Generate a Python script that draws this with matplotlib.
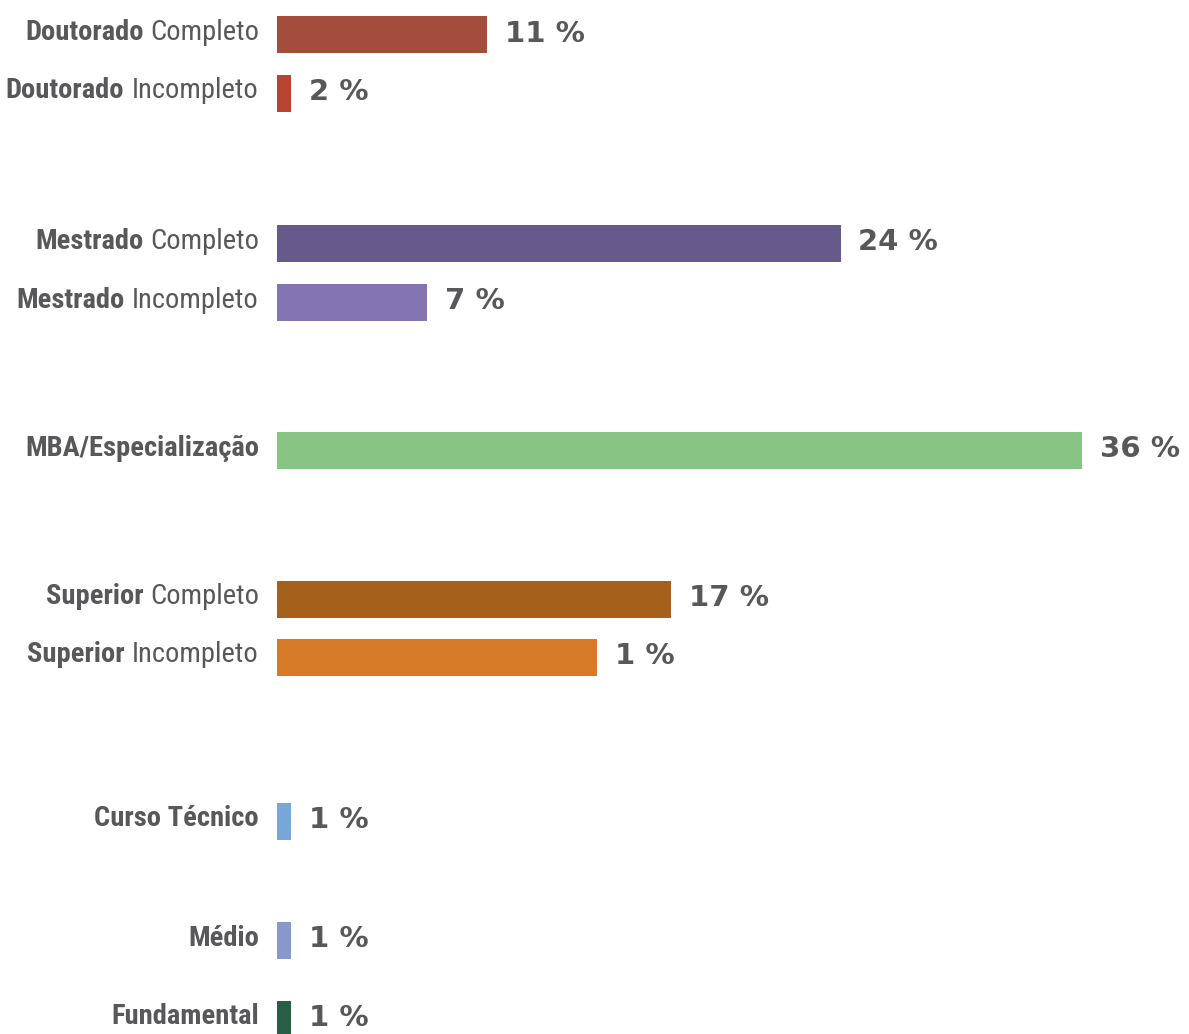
import matplotlib
matplotlib.use("Agg")
import matplotlib.pyplot as plt

# ---- data ----
bold_part = ["Doutorado", "Doutorado", "Mestrado", "Mestrado", "MBA/Especialização",
             "Superior", "Superior", "Curso Técnico", "Médio", "Fundamental"]
regular_part = ["Completo", "Incompleto", "Completo", "Incompleto", "",
                "Completo", "Incompleto", "", "", ""]
bar_values = [9.4, 0.63, 25.2, 6.7, 36.0, 17.6, 14.3, 0.63, 0.63, 0.63]
value_labels = ["11 %", "2 %", "24 %", "7 %", "36 %", "17 %", "1 %", "1 %", "1 %", "1 %"]

# ---- layout / style ----
y_pos = [34.5, 93, 243.5, 302, 450, 599, 657, 821, 940, 1019]
colors = ["#A44D3C", "#B94333", "#665A8A", "#8574B4", "#88C484",
          "#A5601C", "#D67A28", "#77A7D8", "#8A97CA", "#285E43"]
W, H = 1189, 1034
px_per_unit = 805 / 36.0
bar_h = 37
text_color = "#58585A"
label_fonts = ['Roboto Condensed', 'Roboto', 'DejaVu Sans']
label_size = 20.5

fig = plt.figure(figsize=(W / 100, H / 100), dpi=100)
ax = fig.add_axes([277 / W, 0, (W - 277) / W, 1])
ax.set_xlim(0, (W - 277) / px_per_unit)
ax.set_ylim(H, 0)
ax.axis("off")

ax.barh(y_pos, bar_values, height=bar_h, color=colors, align="center")

label_ax = fig.add_axes([0, 0, 1, 1])
label_ax.set_xlim(0, W)
label_ax.set_ylim(H, 0)
label_ax.axis("off")
label_ax.patch.set_alpha(0)

fig.canvas.draw()
renderer = fig.canvas.get_renderer()

for b, r, y in zip(bold_part, regular_part, y_pos):
    yt = y - 5
    if r:
        t = label_ax.text(259, yt, r, ha="right", va="center_baseline",
                          fontsize=label_size, color=text_color, family=label_fonts)
        bb = t.get_window_extent(renderer=renderer)
        x_left = label_ax.transData.inverted().transform((bb.x0, 0))[0]
        gap = 8 if r.startswith("I") else 6
        label_ax.text(x_left - gap, yt, b, ha="right", va="center_baseline",
                      fontsize=label_size, fontweight="bold", color=text_color,
                      family=label_fonts)
    else:
        label_ax.text(259, yt, b, ha="right", va="center_baseline",
                      fontsize=label_size, fontweight="bold", color=text_color,
                      family=label_fonts)

for v, lab, y in zip(bar_values, value_labels, y_pos):
    ax.annotate(lab, xy=(v, y), xytext=(18, 4), textcoords="offset pixels",
                ha="left", va="center_baseline", fontsize=21, fontweight="heavy",
                color=text_color, family="DejaVu Sans")

fig.savefig("out.png", dpi=100)
